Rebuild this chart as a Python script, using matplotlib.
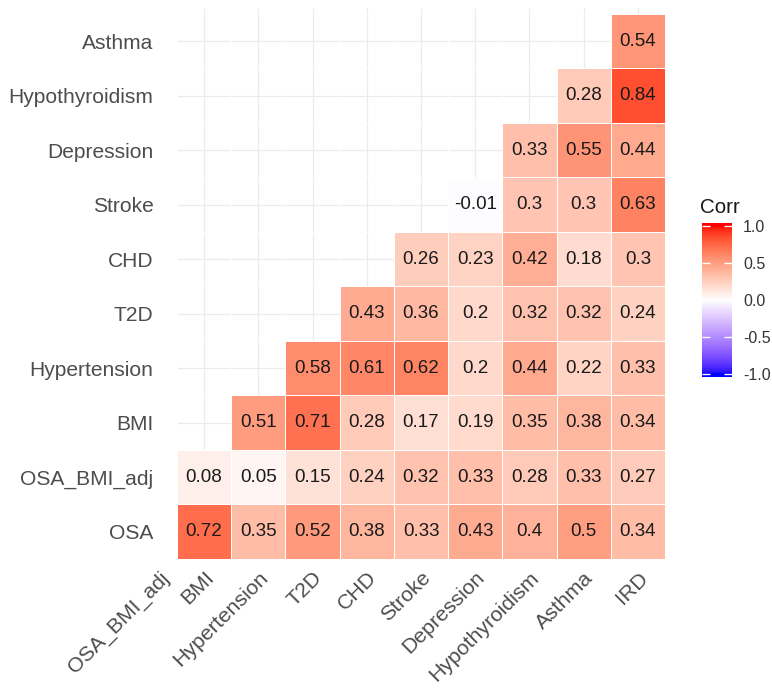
import matplotlib
matplotlib.use("Agg")
import matplotlib.pyplot as plt
from matplotlib.colors import ListedColormap, Normalize
import numpy as np

plt.rcParams['font.family'] = ['Liberation Sans', 'DejaVu Sans']

# rows from bottom to top, columns from left to right
row_labels = ["OSA", "OSA_BMI_adj", "BMI", "Hypertension", "T2D", "CHD",
              "Stroke", "Depression", "Hypothyroidism", "Asthma"]
col_labels = ["BMI", "Hypertension", "T2D", "CHD", "Stroke", "Depression",
              "Hypothyroidism", "Asthma", "IRD"]
empty_col_label = "OSA_BMI_adj"   # x label with no cells under it

# lower triangle, each row right-aligned (last value is IRD)
corr_osa = [0.72, 0.35, 0.52, 0.38, 0.33, 0.43, 0.40, 0.50, 0.34]
corr_osa_bmi_adj = [0.08, 0.05, 0.15, 0.24, 0.32, 0.33, 0.28, 0.33, 0.27]
corr_bmi = [0.51, 0.71, 0.28, 0.17, 0.19, 0.35, 0.38, 0.34]
corr_hypertension = [0.58, 0.61, 0.62, 0.20, 0.44, 0.22, 0.33]
corr_t2d = [0.43, 0.36, 0.20, 0.32, 0.32, 0.24]
corr_chd = [0.26, 0.23, 0.42, 0.18, 0.30]
corr_stroke = [-0.01, 0.30, 0.30, 0.63]
corr_depression = [0.33, 0.55, 0.44]
corr_hypothyroidism = [0.28, 0.84]
corr_asthma = [0.54]

rows = [corr_osa, corr_osa_bmi_adj, corr_bmi, corr_hypertension, corr_t2d,
        corr_chd, corr_stroke, corr_depression, corr_hypothyroidism, corr_asthma]

n_rows = len(row_labels)
n_cols = len(col_labels)
mat = np.full((n_rows, n_cols), np.nan)
for i, r in enumerate(rows):
    mat[i, n_cols - len(r):] = r


# blue - white - red ramp interpolated in CIELAB (like ggplot gradient2)
M = np.array([[0.4124, 0.3576, 0.1805],
              [0.2126, 0.7152, 0.0722],
              [0.0193, 0.1192, 0.9505]])
WHITE = np.array([0.95047, 1.0, 1.08883])

def to_lab(rgb):
    rgb = np.asarray(rgb, float)
    lin = np.where(rgb <= 0.04045, rgb / 12.92, ((rgb + 0.055) / 1.055) ** 2.4)
    f = (lin @ M.T) / WHITE
    f = np.where(f > 0.008856, np.cbrt(f), 7.787 * f + 16 / 116)
    return np.stack([116 * f[..., 1] - 16,
                     500 * (f[..., 0] - f[..., 1]),
                     200 * (f[..., 1] - f[..., 2])], -1)

def to_rgb(lab):
    fy = (lab[..., 0] + 16) / 116
    f = np.stack([fy + lab[..., 1] / 500, fy, fy - lab[..., 2] / 200], -1)
    xyz = np.where(f ** 3 > 0.008856, f ** 3, (f - 16 / 116) / 7.787) * WHITE
    lin = np.clip(xyz @ np.linalg.inv(M).T, 0, None)
    rgb = np.where(lin <= 0.0031308, 12.92 * lin, 1.055 * lin ** (1 / 2.4) - 0.055)
    return np.clip(rgb, 0, 1)

lab_blue, lab_white, lab_red = to_lab([[0, 0, 1], [1, 1, 1], [1, 0, 0]])
t = np.linspace(-1, 1, 256)[:, None]
lab = np.where(t < 0, lab_white + (-t) * (lab_blue - lab_white),
               lab_white + t * (lab_red - lab_white))
cmap = ListedColormap(to_rgb(lab))
norm = Normalize(-1, 1)


# figure
fig = plt.figure(figsize=(7.72, 6.9), dpi=100)
ax = fig.add_axes([177 / 772, 131 / 690, 488 / 772, 551 / 690])

for c in range(n_cols):
    ax.axvline(c, color="#ebebeb", lw=0.9, zorder=0)
for r in range(n_rows):
    ax.axhline(r, color="#ebebeb", lw=0.9, zorder=0)

xs = np.arange(n_cols + 1) - 0.5
ys = np.arange(n_rows + 1) - 0.5
ax.pcolormesh(xs, ys, np.ma.masked_invalid(mat), cmap=cmap, norm=norm,
              edgecolors="white", linewidth=0.7, zorder=2)

for i in range(n_rows):
    for j in range(n_cols):
        v = mat[i, j]
        if np.isnan(v):
            continue
        ax.text(j, i, f"{round(v, 2):g}", ha="center", va="center",
                fontsize=13.5, color="#1a1a1a", zorder=3)

ax.set_xlim(-0.5, n_cols - 0.5)
ax.set_ylim(-0.5, n_rows - 0.39)
for s in ax.spines.values():
    s.set_visible(False)

ax.set_yticks(range(n_rows))
ax.set_yticklabels(row_labels, fontsize=15.1, color="#4d4d4d")
ax.set_xticks(range(n_cols))
ax.set_xticklabels(col_labels, fontsize=15.3, color="#4d4d4d",
                   rotation=45, ha="right", va="top", rotation_mode="anchor")
ax.tick_params(axis="y", length=0, pad=17)
ax.tick_params(axis="x", length=0, pad=6.5)

# the OSA_BMI_adj column label sits left of the first cell column
ax.annotate(empty_col_label, xy=(-0.82, 0), xycoords=ax.get_xaxis_transform(),
            xytext=(0, -6.5), textcoords="offset points", fontsize=15.3,
            color="#4d4d4d", rotation=45, ha="right", va="top",
            rotation_mode="anchor", annotation_clip=False)


# colour bar legend
cax = fig.add_axes([702 / 772, (690 - 377) / 690, 30 / 772, 154 / 690])
grad = np.linspace(-1.035, 1.035, 300)[:, None]
cax.imshow(grad, cmap=cmap, norm=norm, aspect="auto", origin="lower",
           extent=[0, 1, -1.035, 1.035])
cax.set_xlim(0, 1)
cax.set_ylim(-1.035, 1.035)
cax.set_xticks([])
cax.set_yticks([-1, -0.5, 0, 0.5, 1])
cax.set_yticklabels(["-1.0", "-0.5", "0.0", "0.5", "1.0"], fontsize=11.5,
                    color="#333333")
cax.tick_params(axis="y", left=True, right=True, labelleft=False,
                labelright=True, direction="in", length=6, width=1,
                color="white", pad=8)
for s in cax.spines.values():
    s.set_visible(False)
fig.text(700 / 772, (690 - 213) / 690, "Corr", fontsize=14.8, color="#1a1a1a",
         ha="left", va="baseline")

fig.savefig("out.png", dpi=100, facecolor="white")
